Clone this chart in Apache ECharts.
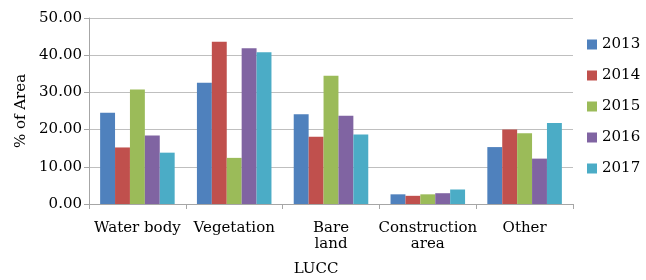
<!DOCTYPE html>
<html><head><meta charset="utf-8">
<script src="https://cdn.jsdelivr.net/npm/echarts@6/dist/echarts.min.js"></script>
<style>html,body{margin:0;padding:0;background:#fff}#c{width:646px;height:280px}</style>
</head><body><div id="c"></div>
<script>
const categories = ['Water body', 'Vegetation', 'Bare\nland', 'Construction\narea', 'Other'];
const years = ['2013', '2014', '2015', '2016', '2017'];
const v2013 = [24.5, 32.6, 24.1, 2.6, 15.3];
const v2014 = [15.2, 43.6, 18.1, 2.2, 20.0];
const v2015 = [30.8, 12.4, 34.5, 2.6, 19.0];
const v2016 = [18.4, 41.9, 23.7, 2.9, 12.2];
const v2017 = [13.8, 40.8, 18.7, 3.9, 21.8];
const colors = ['#4F81BD', '#C0504D', '#9BBB59', '#8064A2', '#4BACC6'];
const font = 'DejaVu Serif';
const allVals = [v2013, v2014, v2015, v2016, v2017];
const chart = echarts.init(document.getElementById('c'));
chart.setOption({
  animation: false,
  textStyle: {fontFamily: font},
  grid: {left: 89, right: 73, top: 18, bottom: 76, containLabel: false, outerBoundsMode: 'none'},
  legend: {
    orient: 'vertical', left: 582, top: 32, itemWidth: 10, itemHeight: 10, itemGap: 16,
    icon: 'rect', textStyle: {fontFamily: font, fontSize: 15, color: '#000'},
    data: years
  },
  xAxis: {
    type: 'category', data: categories,
    name: 'LUCC', nameLocation: 'middle', nameGap: 58,
    nameTextStyle: {fontFamily: font, fontSize: 15, color: '#000', padding: [0, 30, 0, 0]},
    axisLine: {lineStyle: {color: '#a6a6a6'}},
    axisTick: {show: true, length: 5, lineStyle: {color: '#a6a6a6'}},
    axisLabel: {fontFamily: font, fontSize: 15, color: '#000', margin: 16, lineHeight: 16, interval: 0}
  },
  yAxis: {
    type: 'value', min: 0, max: 50, interval: 10,
    name: '% of Area', nameLocation: 'middle', nameGap: 58,
    nameTextStyle: {fontFamily: font, fontSize: 15, color: '#000'},
    axisLine: {show: true, lineStyle: {color: '#a6a6a6'}},
    axisTick: {show: true, length: 5, lineStyle: {color: '#a6a6a6'}},
    splitLine: {lineStyle: {color: '#bfbfbf'}},
    axisLabel: {fontFamily: font, fontSize: 15, color: '#000', margin: 7, formatter: v => v.toFixed(2)}
  },
  series: years.map((y, i) => ({
    name: y, type: 'bar', data: allVals[i],
    itemStyle: {color: colors[i]},
    barGap: '0%', barCategoryGap: '23%'
  }))
});
</script></body></html>
